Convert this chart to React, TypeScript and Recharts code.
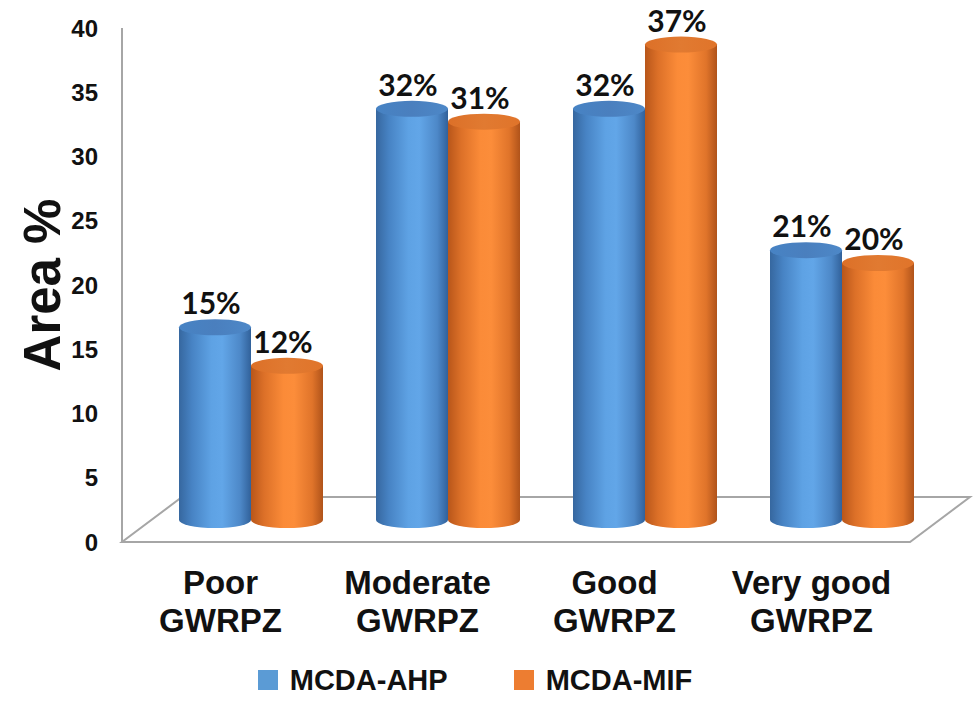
import React from 'react';
import { BarChart, Bar, XAxis, YAxis, Legend, LabelList, ReferenceArea } from 'recharts';

// ---- data ----
const categories = ['Poor', 'Moderate', 'Good', 'Very good'];
const categorySuffix = 'GWRPZ';
const ahpValues = [15, 32, 32, 21];
const mifValues = [12, 31, 37, 20];
const yTicks = [0, 5, 10, 15, 20, 25, 30, 35, 40];
const seriesNames = ['MCDA-AHP', 'MCDA-MIF'];

const data = categories.map((c, i) => ({ name: c, ahp: ahpValues[i], mif: mifValues[i] }));

// ---- style ----
const ARIAL = '"Liberation Sans", Arial, sans-serif';
const CALIBRI = 'Lato, "Open Sans", sans-serif';
const DX = 30; // depth shift of cylinders
const DY = 22;
const RY = 8;
const FLOOR_DEPTH = 3.5; // floor depth, in value units
const FLOOR_SLANT = 60 / 45;
const GRID = '#a6a6a6';

const blue = {
  legend: '#5b9bd5',
  body: ['#36679f', '#4783c4', '#5ea2e4', '#62a6e8', '#4d88c8', '#31619a'],
  top: '#4a7fbe',
};
const orange = {
  legend: '#ed7d31',
  body: ['#b8561a', '#dc7028', '#fb8b38', '#fc8d3a', '#e0742a', '#b0531a'],
  top: '#e17a31',
};

const makeCylinder = (key: string, c: any) => (props: any) => {
  const { x, y, width, height, index } = props;
  if (x == null || width == null || height == null) return null;
  const rx = width / 2;
  const x0 = x + DX;
  const x1 = x0 + width;
  const yt = y - DY;
  const yb = y + height - DY;
  const gid = `${key}-body-${index}`;
  const tid = `${key}-top-${index}`;
  const offs = [0, 0.18, 0.45, 0.6, 0.85, 1];
  return (
    <g>
      <defs>
        <linearGradient id={gid} x1="0" y1="0" x2="1" y2="0">
          {c.body.map((col: string, i: number) => (
            <stop key={i} offset={offs[i]} stopColor={col} />
          ))}
        </linearGradient>
        <linearGradient id={tid} x1="0" y1="0" x2="1" y2="0">
          <stop offset="0" stopColor={c.body[1]} />
          <stop offset="0.5" stopColor={c.top} />
          <stop offset="1" stopColor={c.body[4]} />
        </linearGradient>
      </defs>
      <path
        d={`M${x0},${yt} L${x0},${yb} A${rx},${RY} 0 0 0 ${x1},${yb} L${x1},${yt} Z`}
        fill={`url(#${gid})`}
      />
      <ellipse cx={x0 + rx} cy={yt} rx={rx} ry={RY} fill={`url(#${tid})`} />
    </g>
  );
};

const renderValueLabel = (props: any) => {
  const vb = props.viewBox || props;
  const x = vb.x ?? props.x;
  const y = vb.y ?? props.y;
  const width = vb.width ?? props.width;
  return (
    <text
      x={x + width / 2 + DX - 4}
      y={y - DY - RY - 5}
      textAnchor="middle"
      fontFamily={CALIBRI}
      fontWeight="bold"
      fontSize={30}
      fill="#111"
    >
      {`${props.value}%`}
    </text>
  );
};

const Floor = (props: any) => {
  const { x, y, width, height } = props;
  if (x == null) return null;
  const sx = height * FLOOR_SLANT;
  const pts = [
    [x, y + height],
    [x + width, y + height],
    [x + width + sx, y],
    [x + sx, y],
  ]
    .map((p) => p.join(','))
    .join(' ');
  return <polygon points={pts} fill="#ffffff" stroke={GRID} strokeWidth={2} />;
};

const CategoryTick = (props: any) => {
  const { x, y, payload } = props;
  return (
    <g>
      <text x={x} y={y + 50} textAnchor="middle" fontFamily={ARIAL} fontWeight="bold" fontSize={33} fill="#111">
        {payload.value}
      </text>
      <text x={x} y={y + 88} textAnchor="middle" fontFamily={ARIAL} fontWeight="bold" fontSize={33} fill="#111">
        {categorySuffix}
      </text>
    </g>
  );
};

const YTitle = (props: any) => {
  const vb = props.viewBox || {};
  const cx = (vb.x ?? 0) + 60;
  const cy = (vb.y ?? 0) + (vb.height ?? 0) / 2;
  return (
    <text
      x={cx}
      y={cy}
      transform={`rotate(-90, ${cx}, ${cy})`}
      textAnchor="middle"
      fontFamily={ARIAL}
      fontWeight="bold"
      fontSize={51}
      fill="#111"
    >
      Area %
    </text>
  );
};

const renderLegend = () => {
  const cols = [blue.legend, orange.legend];
  return (
    <div
      style={{
        display: 'flex',
        justifyContent: 'center',
        alignItems: 'center',
        height: 60,
        paddingTop: 8,
        paddingLeft: 40,
        boxSizing: 'border-box',
        gap: 66,
        fontFamily: ARIAL,
        fontWeight: 'bold',
        fontSize: 29,
        color: '#111',
      }}
    >
      {seriesNames.map((n, i) => (
        <div key={n} style={{ display: 'flex', alignItems: 'center', gap: 12 }}>
          <span style={{ display: 'inline-block', width: 20, height: 20, background: cols[i] }} />
          <span>{n}</span>
        </div>
      ))}
    </div>
  );
};

export default function App() {
  return (
    <div style={{ position: 'absolute', left: 0, top: 0, width: 973, height: 706, background: '#fff' }}>
      <BarChart
        width={973}
        height={706}
        data={data}
        margin={{ top: 28, right: 63, bottom: 0, left: 0 }}
        barGap={0}
        barSize={72}
      >
        <XAxis
          dataKey="name"
          height={104}
          axisLine={{ stroke: GRID, strokeWidth: 2 }}
          tickLine={false}
          tickSize={0}
          tick={<CategoryTick />}
          interval={0}
        />
        <YAxis
          width={122}
          domain={[0, 40]}
          ticks={yTicks}
          interval={0}
          axisLine={{ stroke: GRID, strokeWidth: 2 }}
          tickLine={false}
          tickSize={0}
          tickMargin={24}
          tick={{ fontFamily: ARIAL, fontWeight: 'bold', fontSize: 24, fill: '#111' }}
          label={<YTitle />}
        />
        <ReferenceArea y1={0} y2={FLOOR_DEPTH} shape={<Floor />} ifOverflow="visible" />
        <Legend verticalAlign="bottom" content={renderLegend} />
        <Bar dataKey="ahp" name={seriesNames[0]} fill={blue.legend} isAnimationActive={false} shape={makeCylinder('ahp', blue)}>
          <LabelList dataKey="ahp" content={renderValueLabel} />
        </Bar>
        <Bar dataKey="mif" name={seriesNames[1]} fill={orange.legend} isAnimationActive={false} shape={makeCylinder('mif', orange)}>
          <LabelList dataKey="mif" content={renderValueLabel} />
        </Bar>
      </BarChart>
    </div>
  );
}
